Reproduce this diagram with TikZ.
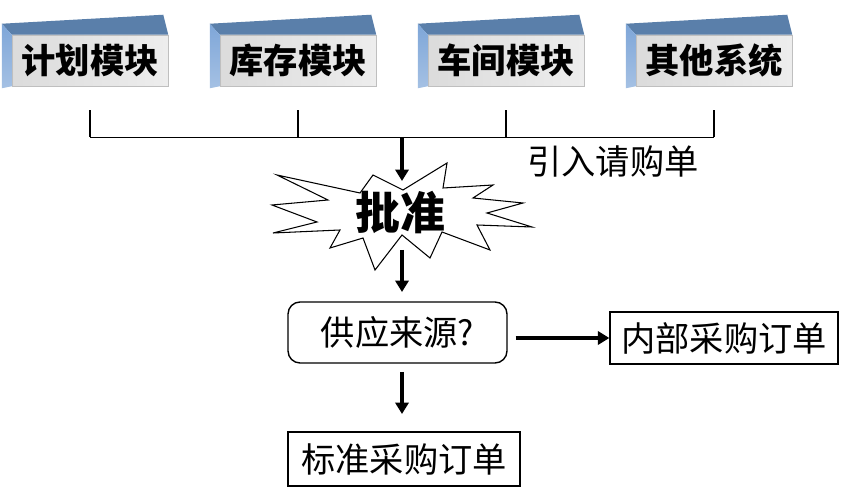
\documentclass[tikz,border=0pt]{standalone}
\usepackage{fontspec}
\newfontfamily\cjk{Noto Sans CJK SC}
\usetikzlibrary{arrows.meta,positioning}

\definecolor{modtop}{HTML}{5A7FAA}
\definecolor{modside}{HTML}{7EA6D8}

\begin{document}
\begin{tikzpicture}[x=0.02cm,y=-0.02cm,
		module/.style={draw=gray!50,line width=0.3pt,left color=gray!28,right color=gray!14,
			minimum width=3.12cm,minimum height=1.02cm,inner sep=0pt,
			font=\cjk\bfseries\fontsize{19.5}{20}\selectfont},
		order/.style={draw,line width=0.8pt,inner sep=0pt,
			font=\cjk\fontsize{19.5}{20}\selectfont},
		bracket/.style={draw,line width=0.6pt},
		flow/.style={-{Triangle[length=6.5pt,width=7.5pt]},line width=2pt}]
	\useasboundingbox (0,0) rectangle (857,502);

	% modules
	\foreach \name/\label [count=\i from 0] in {plan/计划模块,stock/库存模块,shop/车间模块,other/其他系统} {
		\node[module] (\name) at (90+208*\i,60.5) {\label};
		\fill[modtop] (\name.north west) -- (\name.north east) -- ++(-5,-20)
			-- ([shift={(-0.2cm,0.22cm)}]\name.north west) -- cycle;
		\shade[top color=modside,bottom color=modside!70] ([shift={(-0.2cm,0.22cm)}]\name.north west)
			-- (\name.north west) -- (\name.south west) -- ([shift={(-0.2cm,-0.04cm)}]\name.south west) -- cycle;
	}

	% bracket
	\foreach \name in {plan,stock,shop,other}
		\draw[bracket] ([yshift=-0.48cm]\name.south) -- ++(0,27);
	\draw[bracket] ([yshift=-1.02cm]plan.south) -- ([yshift=-1.02cm]other.south);
	\coordinate (join) at (402,137);
	\node[font=\cjk\fontsize{19.5}{20}\selectfont] (importlbl) at (613,162) {引入请购单};

	% starburst
	\draw[line width=0.6pt,fill=white] (277,175) -- (360,193) -- (373,175) -- (403,190) -- (447,163)
		-- (443,188) -- (493,185) -- (473,198) -- (523,203) -- (487,213) -- (532,227)
		-- (477,225) -- (490,250) -- (442,232) -- (430,258) -- (402,235) -- (375,270)
		-- (363,238) -- (330,248) -- (340,230) -- (273,233) -- (317,222) -- (272,205)
		-- (328,200) -- cycle;
	\node[font=\cjk\bfseries\fontsize{25.5}{26}\selectfont] (approve) at (400,213) {批准};
	\coordinate (burstN) at (402,181);
	\coordinate (burstS) at (402,250);

	% orders
	\node[order,rounded corners=0.24cm,minimum width=4.38cm,minimum height=1.22cm] (source) at (397.5,332.5) {供应来源?};
	\node[order,minimum width=4.56cm,minimum height=1.04cm] (internal) at (724,338) {内部采购订单};
	\node[order,minimum width=4.64cm,minimum height=1.08cm] (standard) at (404,459) {标准采购订单};
	\coordinate (srcE) at ([xshift=0.16cm]source.east);
	\coordinate (srcN) at (402,292);
	\coordinate (srcS) at (402,372);
	\coordinate (stdN) at (402,414);

	\draw[flow] (join) -- (burstN);
	\draw[flow] (burstS) -- (srcN);
	\draw[flow] (srcE |- internal.west) -- (internal.west);
	\draw[flow] (srcS) -- (stdN);
\end{tikzpicture}
\end{document}
